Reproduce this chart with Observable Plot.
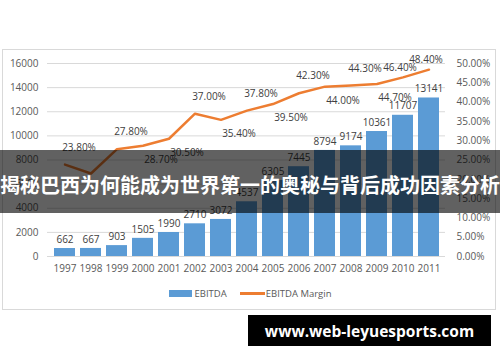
<!DOCTYPE html>
<html>
<head>
<meta charset="utf-8">
<script src="https://cdn.jsdelivr.net/npm/d3@7"></script>
<script src="https://cdn.jsdelivr.net/npm/@observablehq/plot@0.6"></script>
<style>
  html, body { margin: 0; padding: 0; background: #fff; }
  body { width: 500px; height: 362px; position: relative; overflow: hidden; font-family: "Open Sans", "Liberation Sans", sans-serif; }
  #frame { position: absolute; left: 2px; top: 49px; width: 494px; height: 261px; border: 1px solid #d9d9d9; box-sizing: border-box; }
  #chart { position: absolute; left: 0; top: 0; }
  #legend { position: absolute; left: 0; top: 287px; width: 500px; display: flex; justify-content: center; align-items: center; font-size: 9.5px; color: #595959; }
  #legend .sw { display: inline-block; width: 23px; height: 7px; background: #5b9bd5; margin-right: 3px; }
  #legend .ln { display: inline-block; width: 25px; height: 2.5px; background: #ed7d31; margin-left: 13px; margin-right: 1px; }
  #banner { position: absolute; left: 0; top: 150px; width: 500px; height: 63px; background: rgba(0,0,0,0.62); color: #fff; font-family: "Noto Sans CJK SC", sans-serif; font-weight: bold; font-size: 20px; display: flex; align-items: center; justify-content: center; white-space: nowrap; padding-top: 6px; box-sizing: border-box; }
  #footer { position: absolute; left: 248px; top: 315px; width: 243px; height: 31px; background: #000; color: #fff; font-weight: bold; font-size: 15.5px; display: flex; align-items: center; justify-content: center; }
</style>
</head>
<body>
<div id="frame"></div>
<div id="chart"></div>
<div id="legend"><span class="sw"></span>EBITDA<span class="ln"></span>EBITDA Margin</div>
<div id="banner">揭秘巴西为何能成为世界第一的奥秘与背后成功因素分析</div>
<div id="footer">www.web-leyuesports.com</div>
<script>
const years = ["1997","1998","1999","2000","2001","2002","2003","2004","2005","2006","2007","2008","2009","2010","2011"];
const ebitda = [662, 667, 903, 1505, 1990, 2710, 3072, 4537, 6305, 7445, 8794, 9174, 10361, 11707, 13141];
const margin = [23.8, 21.5, 27.8, 28.7, 30.5, 37.0, 35.4, 37.8, 39.5, 42.3, 44.0, 44.3, 44.7, 46.4, 48.4];
const marginLabels = ["23.80%", "", "27.80%", "28.70%", "30.50%", "37.00%", "35.40%", "37.80%", "39.50%", "42.30%", "44.00%", "44.30%", "44.70%", "46.40%", "48.40%"];
const leftTicks = [0, 2000, 4000, 6000, 8000, 10000, 12000, 14000, 16000];
const rightTicks = [0, 5, 10, 15, 20, 25, 30, 35, 40, 45, 50];

const yMax = 16000, pMax = 50, k = yMax / pMax;
const rows = years.map((year, i) => ({year, ebitda: ebitda[i], margin: margin[i], label: marginLabels[i], i}));
const n = rows.length;
const isEnd = d => d.i >= n - 2;
const isBelow = d => !isEnd(d) && (d.i === 3 || d.i === 4 || (d.i >= 6 && d.i % 2 === 0));
const isAbove = d => !isEnd(d) && !isBelow(d);
const labeled = rows.filter(d => d.label !== "");

const chart = Plot.plot({
  width: 500,
  height: 284,
  marginTop: 63,
  marginBottom: 28,
  marginLeft: 47,
  marginRight: 55,
  style: {fontFamily: "Open Sans, Liberation Sans, sans-serif", fontSize: "10px", color: "#595959", background: "transparent", overflow: "visible"},
  x: {type: "band", domain: years, paddingInner: 0.2, paddingOuter: 0.1},
  y: {domain: [0, yMax]},
  marks: [
    Plot.gridY(leftTicks, {stroke: "#d9d9d9", strokeOpacity: 1}),
    Plot.barY(rows, {x: "year", y: "ebitda", fill: "#5b9bd5"}),
    Plot.text(rows, {x: "year", y: "ebitda", text: d => String(d.ebitda), dy: -9, fill: "#404040", fontSize: 10}),
    Plot.lineY(rows, {x: "year", y: d => d.margin * k, stroke: "#ed7d31", strokeWidth: 2.5}),
    Plot.text(labeled.filter(isAbove), {x: "year", y: d => d.margin * k, text: "label", dx: 14, dy: -17, fill: "#404040", fontSize: 10}),
    Plot.text(labeled.filter(isBelow), {x: "year", y: d => d.margin * k, text: "label", dx: 18, dy: 14, fill: "#404040", fontSize: 10}),
    Plot.text(labeled.filter(isEnd), {x: "year", y: d => d.margin * k, text: "label", dx: -3, dy: -10, fill: "#404040", fontSize: 10}),
    Plot.axisY(leftTicks, {anchor: "left", tickSize: 0, tickPadding: 9, label: null, fill: "#595959", tickFormat: d => String(d)}),
    Plot.axisY(rightTicks.map(p => p * k), {anchor: "right", tickSize: 0, tickPadding: 11, label: null, fill: "#595959", tickFormat: d => (d / k).toFixed(2) + "%"}),
    Plot.axisX({tickSize: 0, tickPadding: 8, label: null, fill: "#595959"})
  ]
});
document.getElementById("chart").appendChild(chart);
</script>
</body>
</html>
